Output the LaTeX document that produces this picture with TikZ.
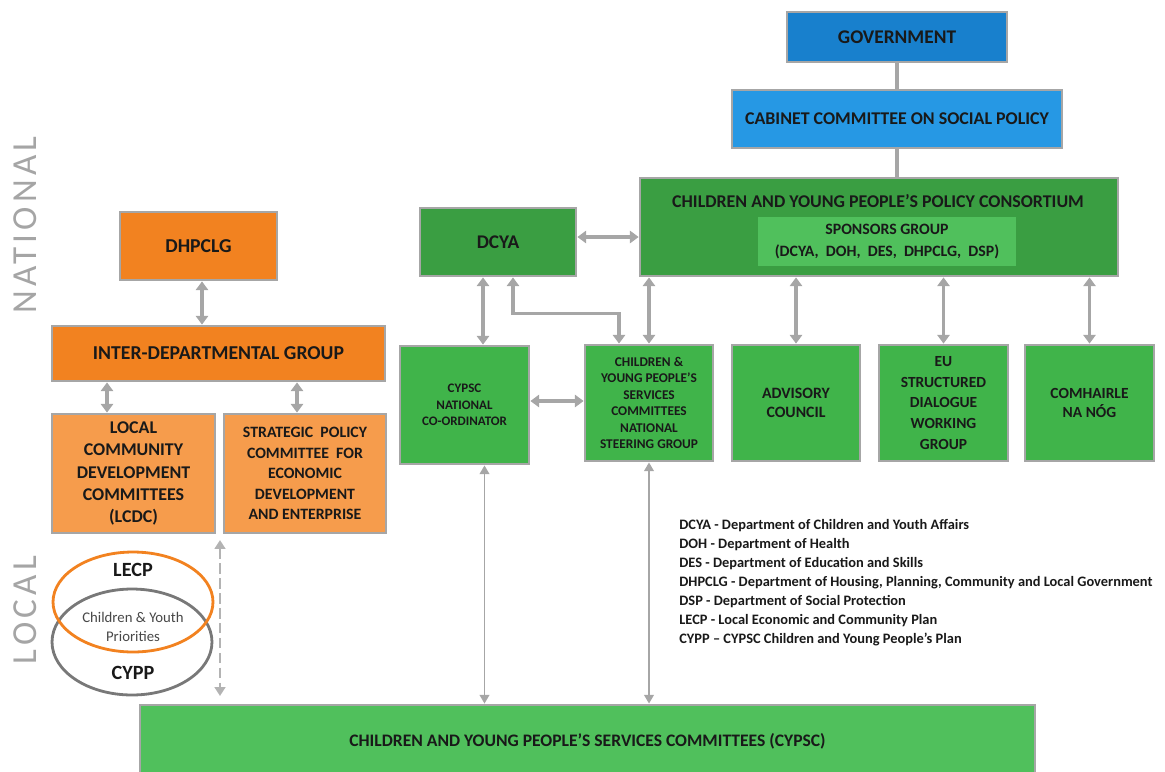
\documentclass[tikz,border=0pt]{standalone}
\usepackage{fontspec}
\setmainfont{Carlito}
\newfontfamily\sidefont[LetterSpace=12]{Carlito}
\usetikzlibrary{arrows.meta}
\definecolor{govblue}{RGB}{24,128,205}
\definecolor{cabblue}{RGB}{38,152,228}
\definecolor{darkgreen}{RGB}{58,158,66}
\definecolor{midgreen}{RGB}{64,180,74}
\definecolor{lightgreen}{RGB}{80,192,92}
\definecolor{deeporange}{RGB}{242,130,32}
\definecolor{softorange}{RGB}{246,156,76}
\definecolor{boxgray}{RGB}{166,166,166}
\definecolor{ringgray}{RGB}{120,120,120}
\definecolor{sidegray}{RGB}{165,165,165}
\definecolor{textdark}{RGB}{25,25,25}
\tikzset{
box/.style={draw=boxgray, line width=1.6pt, align=center, text=textdark, font=\bfseries, inner sep=1pt}, % every block of the chart
link/.style={draw=boxgray, line width=2pt}, % plain connector
biarrow/.style={link, {Triangle[width=7pt,length=5pt]}-{Triangle[width=7pt,length=5pt]}}, % two-way connector
thinarrow/.style={draw=boxgray, line width=1.1pt, {Triangle[width=5.5pt,length=5pt]}-{Triangle[width=5.5pt,length=5pt]}},
sidetext/.style={text=sidegray, font=\sidefont\fontsize{20}{20}\selectfont, rotate=90},
}
\def\fsz#1#2{\fontsize{#1}{#2}\selectfont}
\def\lecpellip{(133,602) ellipse [x radius=1.6cm, y radius=1.0cm]}
\def\cyppellip{(132,642) ellipse [x radius=1.6cm, y radius=1.06cm]}
\begin{document}
\begin{tikzpicture}[x=0.02cm, y=-0.02cm]
    \useasboundingbox (0,0) rectangle (1165,771);

    % side labels
    \node[sidetext] (national) at (25,225) {NATIONAL};
    \node[sidetext] (local) at (25,610) {LOCAL};

    % top of the chart
    \node[box, fill=govblue, minimum width=4.4cm, minimum height=1cm, font=\bfseries\fsz{11}{13}] (gov) at (897,37) {GOVERNMENT};
    \node[box, fill=cabblue, minimum width=6.6cm, minimum height=1.16cm, font=\bfseries\fsz{10.2}{12}] (cabinet) at (897,119) {CABINET COMMITTEE ON SOCIAL POLICY};
    \node[box, fill=darkgreen, minimum width=9.56cm, minimum height=1.96cm] (cyppc) at (879,227) {};
    \node[text=textdark, font=\bfseries\fsz{10.2}{12}] (cyppctitle) at (878,201) {CHILDREN AND YOUNG PEOPLE’S POLICY CONSORTIUM};
    \node[fill=lightgreen, align=center, text=textdark, font=\bfseries\fsz{9}{12}, minimum width=5.16cm, minimum height=0.98cm] (sponsors) at (887,241.5) {SPONSORS GROUP\\(DCYA, \ DOH, \ DES, \ DHPCLG, \ DSP)};
    \node[box, fill=darkgreen, minimum width=3.12cm, minimum height=1.36cm, font=\bfseries\fsz{11}{13}] (dcya) at (498,242) {DCYA};

    % orange side
    \node[box, fill=deeporange, minimum width=3.14cm, minimum height=1.36cm, font=\bfseries\fsz{11.2}{13}] (dhpclg) at (198.5,246) {DHPCLG};
    \node[box, fill=deeporange, minimum width=6.66cm, minimum height=1.1cm, font=\bfseries\fsz{11.2}{13}] (idg) at (218.5,353.5) {INTER-DEPARTMENTAL GROUP};
    \node[box, fill=softorange, minimum width=3.26cm, minimum height=2.38cm, font=\bfseries\fsz{10.2}{12.6}] (lcdc) at (133.5,473.5) {LOCAL\\COMMUNITY\\DEVELOPMENT\\COMMITTEES\\(LCDC)};
    \node[box, fill=softorange, minimum width=3.24cm, minimum height=2.38cm, font=\bfseries\fsz{9}{11.6}] (spc) at (305,473.5) {STRATEGIC \ POLICY\\COMMITTEE \ FOR\\ECONOMIC\\DEVELOPMENT\\AND ENTERPRISE};

    % green row
    \node[box, fill=midgreen, minimum width=2.58cm, minimum height=2.36cm, font=\bfseries\fsz{7.4}{9.4}] (coord) at (464.5,405) {CYPSC\\NATIONAL\\CO-ORDINATOR};
    \node[box, fill=midgreen, minimum width=2.56cm, minimum height=2.32cm, font=\bfseries\fsz{7.6}{9.4}] (steering) at (649,403) {CHILDREN \&\\YOUNG PEOPLE’S\\SERVICES\\COMMITTEES\\NATIONAL\\STEERING GROUP};
    \node[box, fill=midgreen, minimum width=2.56cm, minimum height=2.32cm, font=\bfseries\fsz{9}{11}] (advisory) at (796,403) {ADVISORY\\COUNCIL};
    \node[box, fill=midgreen, minimum width=2.58cm, minimum height=2.32cm, font=\bfseries\fsz{8.8}{11.7}] (eu) at (943.5,403) {EU\\STRUCTURED\\DIALOGUE\\WORKING\\GROUP};
    \node[box, fill=midgreen, minimum width=2.58cm, minimum height=2.32cm, font=\bfseries\fsz{8.8}{11}] (comhairle) at (1089.5,403) {COMHAIRLE\\NA NÓG};

    % bottom block
    \node[box, fill=lightgreen, minimum width=17.9cm, minimum height=1.44cm, font=\bfseries\fsz{10}{12}] (cypsc) at (587.5,741) {CHILDREN AND YOUNG PEOPLE’S SERVICES COMMITTEES (CYPSC)};

    % plans
    \draw[ringgray, line width=1.6pt] \cyppellip;
    \draw[deeporange, line width=1.6pt] \lecpellip;
    \node[text=textdark, font=\bfseries\fsz{11.5}{13}] (lecp) at (133,570) {LECP};
    \node[text=textdark!80, align=center, font=\fsz{8.4}{10.8}] (priorities) at (133,626.5) {Children \& Youth\\Priorities};
    \node[text=textdark, font=\bfseries\fsz{11.5}{13}] (cypp) at (133,673) {CYPP};

    % legend
    \node[anchor=north west, align=left, text=textdark, font=\bfseries\fsz{8.2}{10.8}, inner sep=0pt] (legend) at (679,519) {%
        DCYA - Department of Children and Youth Affairs\\
        DOH - Department of Health\\
        DES - Department of Education and Skills\\
        DHPCLG - Department of Housing, Planning, Community and Local Government\\
        DSP - Department of Social Protection\\
        LECP - Local Economic and Community Plan\\
        CYPP -- CYPSC Children and Young People’s Plan};

    % connectors
    \draw[link] (gov) -- (cabinet);
    \draw[link] (cabinet.south) -- (cabinet.south |- cyppc.north);
    \draw[biarrow] ([xshift=0.07cm]dhpclg.south) -- ([xshift=0.07cm]dhpclg.south |- idg.north);
    \draw[biarrow] ([xshift=-0.53cm]lcdc.north |- idg.south) -- ([xshift=-0.53cm]lcdc.north);
    \draw[biarrow] ([xshift=-0.16cm]spc.north |- idg.south) -- ([xshift=-0.16cm]spc.north);
    \draw[biarrow] ([yshift=0.1cm]dcya.east) -- ([yshift=0.1cm]dcya.east -| cyppc.west);
    \draw[biarrow] ([xshift=-0.3cm]dcya.south) -- ([xshift=-0.3cm]dcya.south |- coord.north);
    \draw[biarrow] ([xshift=0.3cm]dcya.south) -- ++(0,36) -| ([xshift=-0.6cm]steering.north);
    \draw[biarrow] (steering.north |- cyppc.south) -- (steering.north);
    \draw[biarrow] (advisory.north |- cyppc.south) -- (advisory.north);
    \draw[biarrow] (eu.north |- cyppc.south) -- (eu.north);
    \draw[biarrow] (comhairle.north |- cyppc.south) -- (comhairle.north);
    \draw[biarrow] ([yshift=0.08cm]coord.east) -- ([yshift=0.08cm]coord.east -| steering.west);
    \draw[thinarrow] ([xshift=0.4cm]coord.south) -- ([xshift=0.4cm]coord.south |- cypsc.north);
    \draw[thinarrow] (steering.south) -- (steering.south |- cypsc.north);

    \coordinate (dashtop) at (220,540);
    \coordinate (dashbot) at (220,696);
    \draw[draw=boxgray!85, line width=1.4pt, dash pattern=on 6pt off 2.5pt, {Triangle[width=6pt,length=5pt]}-{Triangle[width=6pt,length=5pt]}] (dashtop) -- (dashbot);
\end{tikzpicture}
\end{document}
